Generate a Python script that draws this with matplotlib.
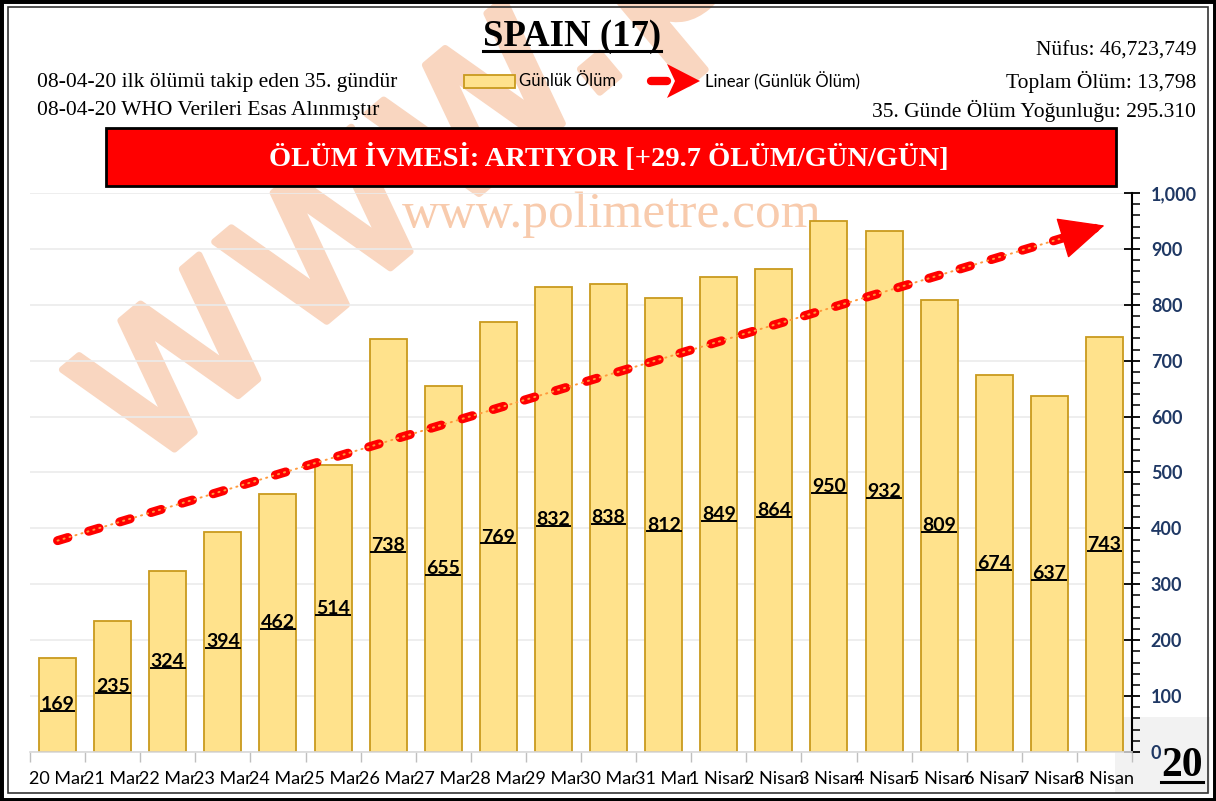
import numpy as np
import matplotlib
matplotlib.use('Agg')
import matplotlib.pyplot as plt
import matplotlib.patheffects as pe
from matplotlib.lines import Line2D
from matplotlib.patches import Rectangle, Polygon
from matplotlib.ticker import MultipleLocator, FuncFormatter

# data
dates = ['20 Mar', '21 Mar', '22 Mar', '23 Mar', '24 Mar', '25 Mar', '26 Mar',
         '27 Mar', '28 Mar', '29 Mar', '30 Mar', '31 Mar', '1 Nisan', '2 Nisan',
         '3 Nisan', '4 Nisan', '5 Nisan', '6 Nisan', '7 Nisan', '8 Nisan']
deaths = [169, 235, 324, 394, 462, 514, 738, 655, 769, 832,
          838, 812, 849, 864, 950, 932, 809, 674, 637, 743]
yticks = list(range(0, 1001, 100))

W, H = 1216, 801
BAR = '#FFE28C'
BAR_EDGE = '#C99A1E'
SERIF = 'Liberation Serif'
SANS = 'Lato'
WM = '#F9D6C0'


def px(x, y):
    return x / W, 1 - y / H


fig = plt.figure(figsize=(W / 100, H / 100), dpi=100)

# background watermarks
fig.text(*px(140, 478), 'www.polimetre.com', rotation=40, fontsize=175,
         family=['Liberation Sans Narrow', 'DejaVu Sans'], color=WM,
         ha='left', va='baseline', rotation_mode='anchor', zorder=-3,
         path_effects=[pe.withStroke(linewidth=5, foreground=WM)])
fig.text(*px(612, 215), 'www.polimetre.com', fontsize=37, family=SERIF,
         color='#F8CBAD', ha='center', va='center', zorder=-2)

# gray box bottom right
fig.add_artist(Rectangle(px(1115, 793), 95 / W, 76 / H, transform=fig.transFigure,
                         fc='#F2F2F2', ec='none', zorder=-2))

l, r, b, t = 30, 1132, 752, 193
ax = fig.add_axes([l / W, 1 - b / H, (r - l) / W, (b - t) / H])
ax.patch.set_alpha(0)

x = np.arange(len(deaths))
ax.bar(x, deaths, width=0.67, color=BAR, edgecolor=BAR_EDGE, linewidth=1.3, zorder=2)

# linear trend
coef = np.polyfit(x, deaths, 1)
trend = np.polyval(coef, x)
ax.plot(x, trend, color='red', lw=6.5, linestyle=(0, (1.2, 2.4)),
        dash_capstyle='round', zorder=3)
ax.plot(x, trend, color='#FF9A3C', lw=1.4, linestyle=(0, (0.6, 2.6)),
        dash_capstyle='round', zorder=4)
ax.annotate('', xy=(x[-1], trend[-1]), xytext=(x[-1] - 0.8, np.polyval(coef, x[-1] - 0.8)),
            arrowprops=dict(arrowstyle='-|>,head_length=1.5,head_width=0.7',
                            color='red', lw=1, mutation_scale=20,
                            shrinkA=0, shrinkB=0), zorder=5)

labels = []
for i, v in enumerate(deaths):
    labels.append(ax.text(i, v / 2, str(v), ha='center', va='center', fontsize=14,
                          fontweight='bold', family=SANS, zorder=6))

ax.set_xlim(-0.5, len(deaths) - 0.5)
ax.set_ylim(0, 1000)
ax.set_xticks(x, dates)
ax.set_xticks(np.arange(-0.5, len(deaths), 1), minor=True)
ax.tick_params(axis='x', which='major', length=0, pad=14, labelsize=13)
ax.tick_params(axis='x', which='minor', length=7, color='#BFBFBF', width=1)
for lab in ax.get_xticklabels():
    lab.set_family(SANS)

ax.yaxis.tick_right()
ax.set_yticks(yticks)
ax.yaxis.set_minor_locator(MultipleLocator(20))
ax.yaxis.set_major_formatter(FuncFormatter(lambda v, p: f'{int(v):,}'))
ax.tick_params(axis='y', which='major', direction='inout', length=11, width=1.3,
               labelsize=13, labelcolor='#1F3864', pad=8)
ax.tick_params(axis='y', which='minor', direction='out', length=6, width=1.1)
for lab in ax.get_yticklabels():
    lab.set_family(SANS)
    lab.set_fontweight('bold')

ax.grid(axis='y', which='major', color='#EBEBEB', lw=1.2, zorder=0)
ax.set_axisbelow(True)
ax.spines['left'].set_visible(False)
ax.spines['top'].set_visible(False)
ax.spines['bottom'].set_color('#D9D9D9')
ax.spines['bottom'].set_linewidth(1.2)
ax.spines['right'].set_color('black')
ax.spines['right'].set_linewidth(1.5)

# header
title = fig.text(*px(572, 36), 'SPAIN (17)', fontsize=26.5, fontweight='bold',
                 family=SERIF, ha='center', va='center')
fig.text(*px(37, 82), '08-04-20 ilk ölümü takip eden 35. gündür', fontsize=15.5,
         family=SERIF, va='center')
fig.text(*px(37, 111), '08-04-20 WHO Verileri Esas Alınmıştır', fontsize=15.5,
         family=SERIF, va='center')
fig.text(*px(1196, 51), 'Nüfus: 46,723,749', fontsize=15.5, family=SERIF,
         ha='right', va='center')
fig.text(*px(1196, 82), 'Toplam Ölüm: 13,798', fontsize=15.5, family=SERIF,
         ha='right', va='center')
fig.text(*px(1196, 111), '35. Günde Ölüm Yoğunluğu: 295.310', fontsize=15.5,
         family=SERIF, ha='right', va='center')

# legend
fig.add_artist(Rectangle(px(464, 88), 51 / W, 13 / H, transform=fig.transFigure,
                         fc=BAR, ec=BAR_EDGE, lw=1.3))
fig.text(*px(519, 81), 'Günlük Ölüm', fontsize=12, family=SANS, va='center')
fig.add_artist(Line2D([px(651, 81)[0], px(667, 81)[0]], [px(651, 81)[1]] * 2,
                      transform=fig.transFigure, color='red', lw=6,
                      solid_capstyle='round'))
fig.add_artist(Polygon([px(700, 81), px(667, 64), px(675, 81), px(667, 98)],
                       closed=True, transform=fig.transFigure, fc='red', ec='none'))
fig.text(*px(705, 81), 'Linear (Günlük Ölüm)', fontsize=12, family=SANS, va='center')

# red banner
fig.add_artist(Rectangle(px(106, 186), 1010 / W, 58 / H, transform=fig.transFigure,
                         fc='#FF0000', ec='black', lw=2))
fig.text(*px(609, 158), 'ÖLÜM İVMESİ: ARTIYOR [+29.7 ÖLÜM/GÜN/GÜN]', fontsize=20.5,
         fontweight='bold', family=SERIF, color='white', ha='center', va='center')

page = fig.text(*px(1182, 766), '20', fontsize=30, fontweight='bold', family=SERIF,
                ha='center', va='center')

# frame
fig.add_artist(Rectangle((0, 0), 1, 1, transform=fig.transFigure, fill=False,
                         ec='black', lw=5))
fig.add_artist(Rectangle(px(8, 793), 1200 / W, 786 / H, transform=fig.transFigure,
                         fill=False, ec='#333333', lw=1.2))

# underlines
fig.canvas.draw()
renderer = fig.canvas.get_renderer()
inv = fig.transFigure.inverted()


def underline(txt, lw, frac):
    bb = txt.get_window_extent(renderer)
    y = bb.y0 + frac * bb.height
    (x0, y0), (x1, _) = inv.transform([(bb.x0, y), (bb.x1, y)])
    fig.add_artist(Line2D([x0, x1], [y0, y0], transform=fig.transFigure,
                          color='black', lw=lw, zorder=7))


for lab in labels:
    underline(lab, 1.4, 0.13)
underline(title, 2.2, 0.08)
underline(page, 2.2, 0.08)

fig.savefig('out.png', dpi=100)
